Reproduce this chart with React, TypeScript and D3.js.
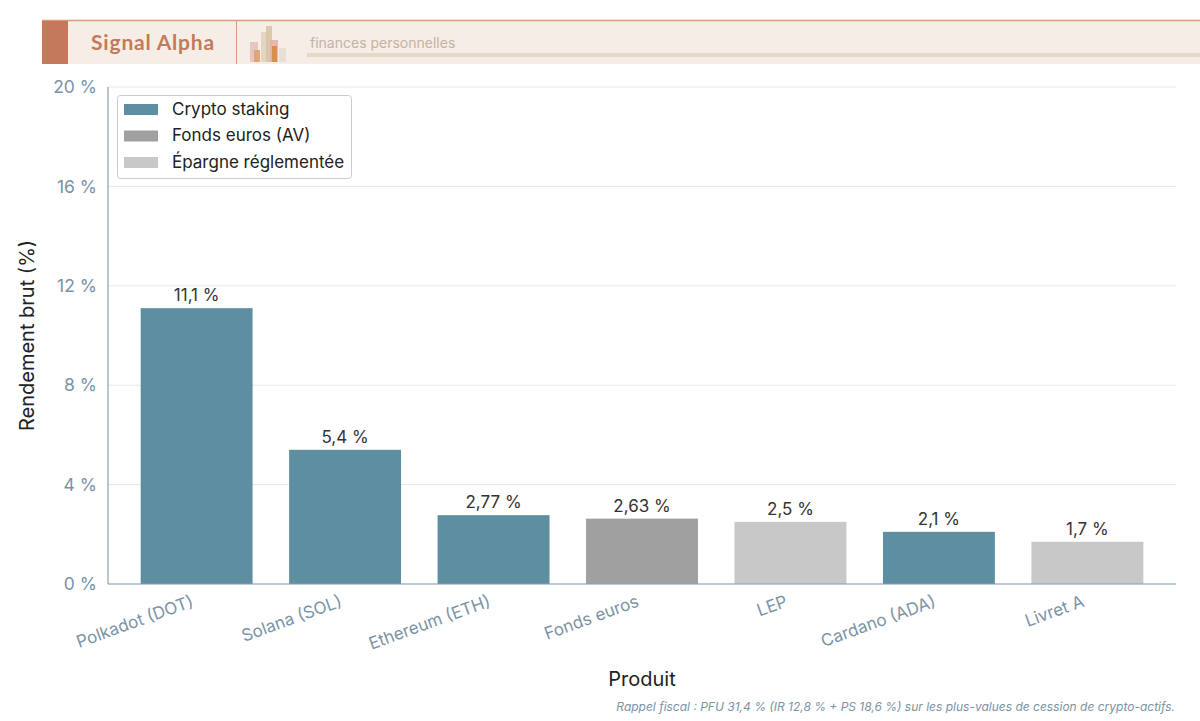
import { useEffect } from 'react';
import * as d3 from 'd3';

const products = ['Polkadot (DOT)', 'Solana (SOL)', 'Ethereum (ETH)', 'Fonds euros', 'LEP', 'Cardano (ADA)', 'Livret A'];
const yields = [11.1, 5.4, 2.77, 2.63, 2.5, 2.1, 1.7];
const kinds = ['crypto', 'crypto', 'crypto', 'fonds', 'epargne', 'crypto', 'epargne'];
const legendKeys = ['crypto', 'fonds', 'epargne'];
const legendLabels = ['Crypto staking', 'Fonds euros (AV)', 'Épargne réglementée'];
const yTicks = [0, 4, 8, 12, 16, 20];

const COLORS: Record<string, string> = {
  crypto: '#5e8fa0',
  fonds: '#a0a0a0',
  epargne: '#c8c8c8',
};

const W = 1200;
const H = 721;
const margin = { top: 87, right: 24, bottom: 137, left: 108 };
const FONT = 'Inter, "Noto Sans", sans-serif';
const AXIS = '#7b93a5';

function fmt(v: number) {
  return `${String(v).replace('.', ',')} %`;
}

export default function App() {
  useEffect(() => {
    document.body.style.margin = '0';
  }, []);

  const x = d3
    .scaleBand<string>()
    .domain(products)
    .range([margin.left, W - margin.right])
    .paddingInner(0.246)
    .paddingOuter(0.22);
  const y = d3.scaleLinear().domain([0, 20]).range([H - margin.bottom, margin.top]);
  const y0 = y(0);

  // little decorative logo bars in the header
  const logo = [
    { x: 250, y: 42, w: 8, h: 20, c: '#e8c0b8' },
    { x: 254, y: 50, w: 6, h: 12, c: '#e0a070' },
    { x: 261, y: 32, w: 8, h: 30, c: '#e2d2bc' },
    { x: 266, y: 26, w: 6, h: 36, c: '#d8c4a8' },
    { x: 270, y: 40, w: 8, h: 22, c: '#e8b0a8' },
    { x: 272, y: 46, w: 5, h: 16, c: '#d88a40' },
    { x: 279, y: 48, w: 7, h: 14, c: '#e6ddd0' },
  ];

  return (
    <svg width={W} height={H} style={{ display: 'block', background: '#fff' }} fontFamily={FONT}>
      {/* header band */}
      <rect x={42} y={20} width={W - 42} height={44} fill="#f6ede7" />
      <line x1={42} x2={W} y1={20.5} y2={20.5} stroke="#dc9a78" strokeWidth={1.5} />
      <rect x={42} y={21} width={26} height={43} fill="#c47a5a" />
      <text x={153} y={50} textAnchor="middle" fontFamily="Lato, Inter, sans-serif" fontWeight={700} fontSize={21} fill="#c47a5a" letterSpacing={0.8}>
        Signal Alpha
      </text>
      <line x1={236.5} x2={236.5} y1={21} y2={64} stroke="#d89a7c" strokeWidth={1} />
      {logo.map((b, i) => (
        <rect key={i} x={b.x} y={b.y} width={b.w} height={b.h} fill={b.c} opacity={0.9} />
      ))}
      <text x={310} y={48} fontSize={14} fill="#c4b2a2" fontFamily={FONT}>
        finances personnelles
      </text>
      <rect x={307} y={53} width={W - 307} height={4} fill="#e6d8c8" />

      {/* grid */}
      {yTicks.map((t) => (
        <line key={t} x1={margin.left} x2={W - margin.right} y1={y(t)} y2={y(t)} stroke="#e8e8e8" strokeWidth={1} />
      ))}

      {/* bars */}
      {products.map((p, i) => (
        <rect key={p} x={x(p)} y={y(yields[i])} width={x.bandwidth()} height={y0 - y(yields[i])} fill={COLORS[kinds[i]]} />
      ))}

      {/* value labels */}
      {products.map((p, i) => (
        <text key={p} x={(x(p) ?? 0) + x.bandwidth() / 2} y={y(yields[i]) - 7} textAnchor="middle" fontSize={17} fill="#333">
          {fmt(yields[i])}
        </text>
      ))}

      {/* axes */}
      <line x1={margin.left} x2={margin.left} y1={margin.top} y2={y0} stroke="#8aa0b0" strokeWidth={1.2} />
      <line x1={margin.left} x2={W - margin.right} y1={y0} y2={y0} stroke="#8aa0b0" strokeWidth={1.2} />
      {yTicks.map((t) => (
        <text key={t} x={margin.left - 11} y={y(t)} dy="0.35em" textAnchor="end" fontSize={17.5} fill={AXIS}>
          {`${t} %`}
        </text>
      ))}
      {products.map((p) => (
        <text
          key={p}
          transform={`translate(${(x(p) ?? 0) + x.bandwidth() / 2 - 2},${y0 + 22}) rotate(-20)`}
          textAnchor="end"
          fontSize={17}
          fill={AXIS}
        >
          {p}
        </text>
      ))}

      {/* axis titles */}
      <text transform={`translate(34,${(margin.top + y0) / 2}) rotate(-90)`} textAnchor="middle" fontSize={20} fill="#222">
        Rendement brut (%)
      </text>
      <text x={(margin.left + W - margin.right) / 2} y={686} textAnchor="middle" fontSize={20} fill="#222">
        Produit
      </text>

      {/* legend */}
      <rect x={117.5} y={95.5} width={234} height={83} rx={3} fill="#fff" fillOpacity={0.9} stroke="#cccccc" />
      {legendKeys.map((k, i) => (
        <g key={k} transform={`translate(124,${109 + i * 26.5})`}>
          <rect x={0} y={-5} width={34} height={11} fill={COLORS[k]} />
          <text x={48} y={0} dy="0.35em" fontSize={17} fill="#222">
            {legendLabels[i]}
          </text>
        </g>
      ))}

      {/* caption */}
      <text x={1175} y={711} textAnchor="end" fontSize={12} fontStyle="italic" fill={AXIS}>
        Rappel fiscal : PFU 31,4 % (IR 12,8 % + PS 18,6 %) sur les plus-values de cession de crypto-actifs.
      </text>
    </svg>
  );
}
